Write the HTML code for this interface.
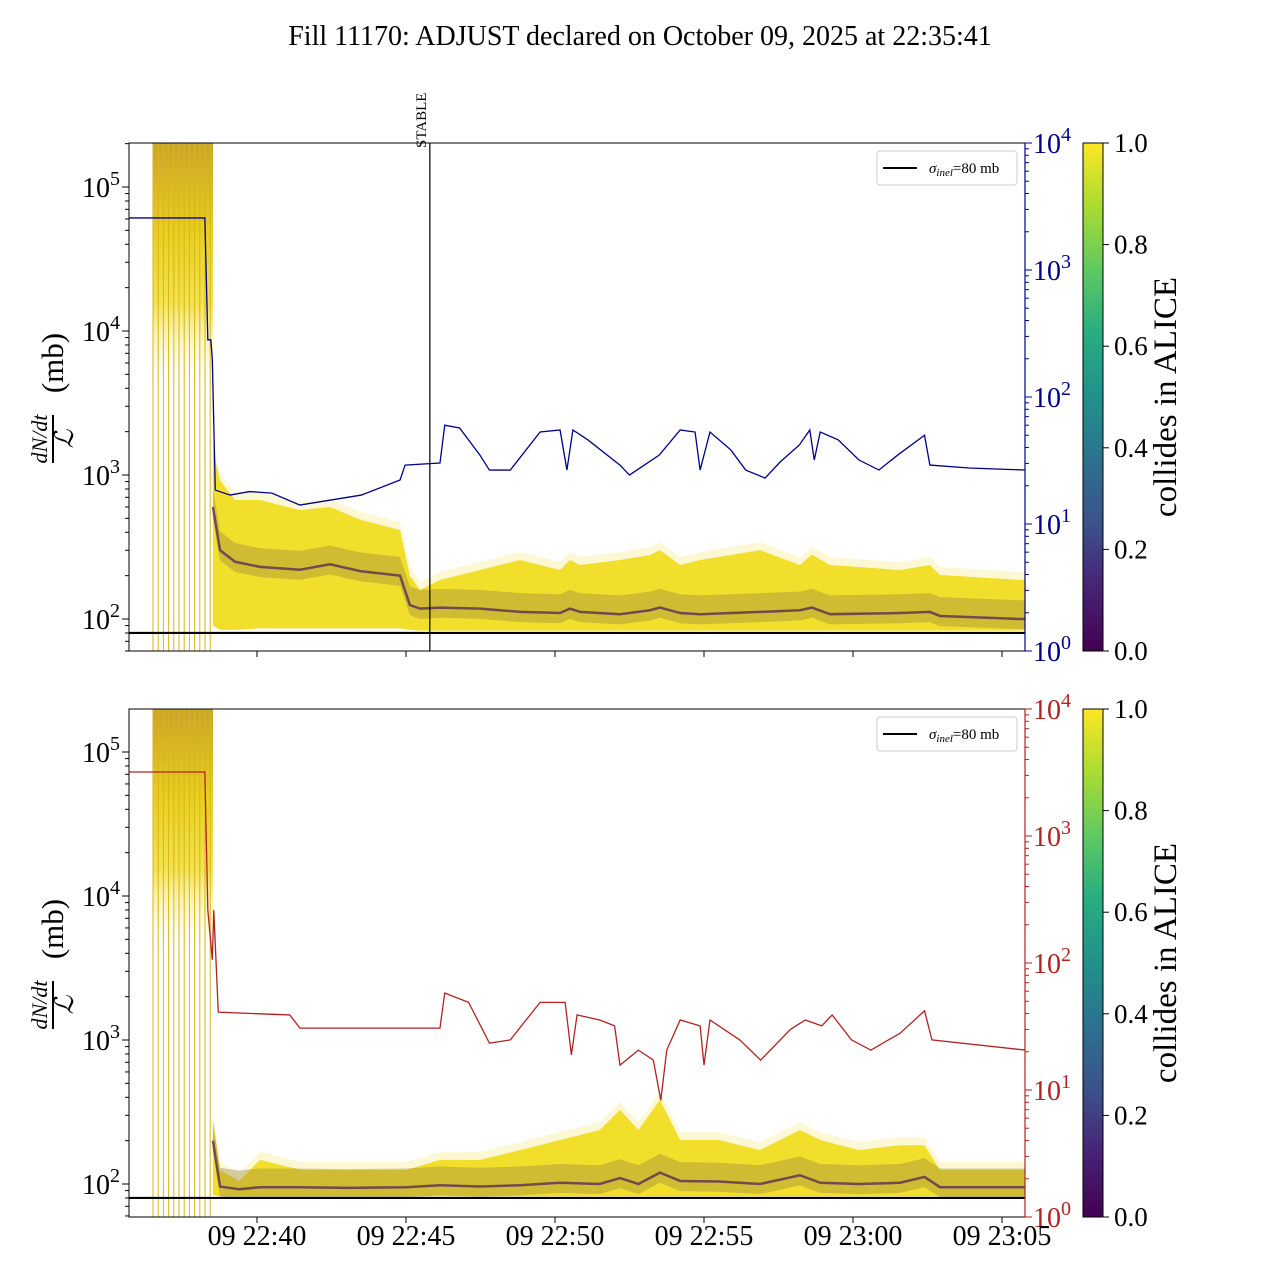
<!DOCTYPE html>
<html><head><meta charset="utf-8"><style>
html,body{margin:0;padding:0;background:#fff}
svg{display:block;font-family:"Liberation Serif",serif}
</style></head><body>
<svg id="chart" width="1280" height="1280" viewBox="0 0 1280 1280" xmlns="http://www.w3.org/2000/svg">
<defs>
<linearGradient id="viridis" x1="0" y1="1" x2="0" y2="0">
<stop offset="0" stop-color="#440154"/><stop offset="0.13" stop-color="#482475"/><stop offset="0.25" stop-color="#3b528b"/><stop offset="0.38" stop-color="#2c728e"/><stop offset="0.5" stop-color="#21918c"/><stop offset="0.63" stop-color="#28ae80"/><stop offset="0.75" stop-color="#5ec962"/><stop offset="0.88" stop-color="#addc30"/><stop offset="1" stop-color="#fde725"/>
</linearGradient>
<linearGradient id="spikeTop" x1="0" y1="0" x2="0" y2="1">
<stop offset="0" stop-color="#c9a52a"/><stop offset="0.25" stop-color="#e8cf1e"/><stop offset="0.45" stop-color="#f1df3a" stop-opacity="0.9"/><stop offset="0.6" stop-color="#fbf3b0" stop-opacity="0.4"/><stop offset="0.7" stop-color="#fff" stop-opacity="0"/>
</linearGradient>
</defs>
<text x="640" y="45" text-anchor="middle" font-size="28">Fill 11170: ADJUST declared on October 09, 2025 at 22:35:41</text>
<g id="panels"></g>
</svg>
<script>
// time in minutes relative to 22:40
const xTickLabels = ["09 22:40","09 22:45","09 22:50","09 22:55","09 23:00","09 23:05"];
const xTickMinutes = [0,5,10,15,20,25];
const stableMinute = 5.8;
const sigmaInel = 80;
// top panel band (mb)
const topBandT = [-1.48,-1.24,-0.74,0.1,1.44,2.45,3.46,4.8,5.13,5.47,6.14,7.48,8.83,10.17,10.5,10.84,12.18,13.19,13.52,14.2,14.87,16.88,18.22,18.62,19.23,21.58,22.58,22.92,25.6,25.8];
const topBandHi = [1480,920,670,670,570,600,490,415,200,159,187,219,257,219,257,237,257,278,301,237,257,301,237,280,237,219,237,202,187,187];
const topBandLo = [90,84,84,86,86,86,86,86,84,83,83,83,83,83,83,83,83,83,83,83,83,83,83,83,83,83,83,83,83,83];
const topBandMid = [600,300,250,230,220,240,215,200,125,118,120,118,112,110,118,112,108,115,120,110,108,112,115,120,108,110,112,105,100,100];
// bottom panel band (mb)
const botBandT = [-1.48,-1.24,-0.6,0.1,1.5,3,5,6.14,7.48,8.83,10.17,11.5,12.18,12.8,13.52,14.2,15.5,16.88,18.22,18.9,20.2,21.58,22.4,22.92,25.6,25.8];
const botBandHi = [278,125,105,147,125,125,125,147,147,172,202,237,327,237,383,202,202,172,237,202,172,186,186,125,125,125];
const botBandLo = [84,82,82,82,82,82,82,82,82,82,82,82,82,82,82,82,82,82,82,82,82,82,82,82,82,82];
const botBandMid = [200,96,92,95,95,94,95,98,96,98,102,100,110,100,120,105,104,100,115,102,100,102,112,95,95,95];
// right-axis series
const blueT = [-4.3,-1.75,-1.65,-1.55,-1.5,-1.4,-0.9,-0.25,0.5,1.44,3.5,4.8,4.97,6.14,6.3,6.8,7.48,7.8,8.5,9.5,10.17,10.4,10.6,11.1,12.18,12.5,13.5,14.2,14.7,14.87,15.2,15.9,16.4,17.05,17.55,18.2,18.55,18.7,18.9,19.5,20.2,20.87,21.5,22.4,22.58,23.9,25.8];
const blueV = [2570,2570,282,282,200,18.5,16.9,18.0,17.5,14.1,16.9,22.2,29.1,30.2,60,57,34.9,26.6,26.6,53,55,26.6,55,46,29.1,24.3,34.9,55,53,26.6,53,38.3,26.6,23,30.7,41.9,55,31.9,53,46,31.9,26.6,34.9,50,29.1,27.6,26.6];
const redT = [-4.3,-1.75,-1.65,-1.5,-1.45,-1.3,1.1,1.44,6.14,6.3,7.1,7.8,8.5,9.5,10.34,10.55,10.74,11.5,12.0,12.18,12.8,13.3,13.55,13.75,14.2,14.87,15.0,15.2,16.2,16.9,17.9,18.4,18.95,19.3,19.95,20.6,21.58,22.4,22.65,25.8];
const redV = [3190,3190,261,106,261,41,39,30.7,30.7,58,49,23.4,24.8,49,49,18.9,39,35.6,32,15.7,20.6,17.2,8.3,20.6,35.6,32,15.7,35.6,24.8,17.2,30,35.6,32,39,24.8,20.6,28,42,24.8,20.6];
// colorbar ticks
const cbarTicks = [0,0.2,0.4,0.6,0.8,1.0];

const NS="http://www.w3.org/2000/svg";
const root=document.getElementById('panels');
function el(tag,attrs,parent,text){const e=document.createElementNS(NS,tag);for(const k in attrs)e.setAttribute(k,attrs[k]);if(text!==undefined)e.textContent=text;(parent||root).appendChild(e);return e;}
const X0=129,X1=1025;
function xScale(t){return 257+t*29.8;}

function drawPanel(p){
  const top=p.top,bot=p.top+508;
  const yL=v=>p.y100-(Math.log10(v)-2)*144;
  const yR=v=>bot-Math.log10(v)*127;
  const g=el('g',{});
  
  
  const clip=el('clipPath',{id:'clip'+p.name},g);
  el('rect',{x:X0,y:top,width:X1-X0,height:508},clip);
  const pg=el('g',{'clip-path':'url(#clip'+p.name+')'},g);
  const sp=el('rect',{x:153,y:top,width:60,height:508*0.7,fill:'url(#spikeTop)'},pg);
  
  
  for(let i=0;i<12;i++){
    const x=153+i*5.2;
    const ln=el('line',{x1:x,x2:x,y1:top,y2:bot,stroke:'#d9b51a','stroke-width':1},pg);
    
    
  }
  const T=p.bandT;
  let up=T.map((t,i)=>xScale(t)+','+yL(p.hi[i]));
  let lo=T.map((t,i)=>xScale(t)+','+yL(p.lo[i])).reverse();
  let up2=T.map((t,i)=>xScale(t)+','+(yL(p.hi[i])-8));
  const halo=el('polygon',{points:up2.concat(lo).join(' '),fill:'#f6ec8a','fill-opacity':0.35},pg);
  
  
  const band=el('polygon',{points:up.concat(lo).join(' '),fill:'#f1dc1c','fill-opacity':0.92},pg);
  
  
  let mu=T.map((t,i)=>xScale(t)+','+yL(p.mid[i]*1.35));
  let ml=T.map((t,i)=>xScale(t)+','+yL(p.mid[i]*0.85)).reverse();
  const mb=el('polygon',{points:mu.concat(ml).join(' '),fill:'#9c8640','fill-opacity':0.4},pg);
  
  
  const mline=el('polyline',{points:T.map((t,i)=>xScale(t)+','+yL(p.mid[i])).join(' '),fill:'none',stroke:'#4a1a5a','stroke-width':2.5,'stroke-opacity':0.7},pg);
  
  
  const sl=el('line',{x1:X0,x2:X1,y1:yL(sigmaInel),y2:yL(sigmaInel),stroke:'#000','stroke-width':2.2},pg);
  
  
  const rs=el('polyline',{points:p.rT.map((t,i)=>xScale(t)+','+yR(p.rV[i])).join(' '),fill:'none',stroke:p.rc,'stroke-width':1.3},pg);
  
  
  if(p.stable){
    const s=el('line',{x1:xScale(stableMinute),x2:xScale(stableMinute),y1:top,y2:bot,stroke:'#000','stroke-width':1.2},g);
    
    
    const st=el('text',{x:0,y:0,'font-size':15,'text-anchor':'start',transform:`translate(${xScale(stableMinute)-4},148) rotate(-90)`},g,'STABLE');
    
    
  }
  el('rect',{x:X0,y:top,width:X1-X0,height:508,fill:'none',stroke:'#000','stroke-width':1},g);
  el('line',{x1:X1,x2:X1,y1:top,y2:bot,stroke:p.rc,'stroke-width':1.2},g);
  for(let d=1;d<=5;d++){
    for(let m=1;m<10;m++){
      const v=m*Math.pow(10,d);const y=yL(v);
      if(y<top||y>bot)continue;
      el('line',{x1:X0,x2:X0-(m==1?7:4),y1:y,y2:y,stroke:'#000','stroke-width':1},g);
      if(m==1){
        const t=el('text',{x:X0-9,y:y+10,'font-size':28,'text-anchor':'end'},g);
        
        
        el('tspan',{},t,'10');el('tspan',{dy:-12,'font-size':20},t,String(d));
      }
    }
  }
  for(let d=0;d<=4;d++){
    for(let m=1;m<10;m++){
      const v=m*Math.pow(10,d);const y=yR(v);
      if(y<top-0.5||y>bot+0.5)continue;
      if(d==4&&m>1)continue;
      el('line',{x1:X1,x2:X1+(m==1?7:4),y1:y,y2:y,stroke:p.rc,'stroke-width':1},g);
      if(m==1){
        const t=el('text',{x:X1+8,y:y+10,'font-size':28,fill:p.rc},g);
        
        
        el('tspan',{},t,'10');el('tspan',{dy:-12,'font-size':20},t,String(d));
      }
    }
  }
  xTickMinutes.forEach((m,i)=>{
    const x=xScale(m);
    el('line',{x1:x,x2:x,y1:bot,y2:bot+6,stroke:'#000'},g);
    if(p.xlabels){
      const t=el('text',{x:x,y:bot+28,'font-size':28,'text-anchor':'middle'},g,xTickLabels[i]);
      
      
    }
  });
  const cy=(top+bot)/2;
  const yl=el('g',{transform:`translate(53,${cy}) rotate(-90)`},g);
  
  
  el('text',{x:-42,y:-6,'font-size':22,'font-style':'italic','text-anchor':'middle'},yl,'dN/dt');
  el('line',{x1:-66,x2:-18,y1:0,y2:0,stroke:'#000','stroke-width':2},yl);
  el('text',{x:-42,y:20,'font-size':26,'font-style':'italic','text-anchor':'middle'},yl,'ℒ');
  el('text',{x:34,y:10,'font-size':31,'text-anchor':'middle'},yl,'(mb)');
  const lg=el('g',{},g);
  
  
  el('rect',{x:877,y:top+8,width:140,height:34,rx:3,fill:'#fff',stroke:'#ccc'},lg);
  el('line',{x1:883,x2:917,y1:top+25,y2:top+25,stroke:'#000','stroke-width':2},lg);
  const lt=el('text',{x:929,y:top+30,'font-size':15},lg);
  el('tspan',{'font-style':'italic'},lt,'σ');
  el('tspan',{'font-style':'italic','font-size':11,dy:3},lt,'inel');
  el('tspan',{dy:-3},lt,'=80 mb');
  const cb=el('rect',{x:1083,y:top,width:20,height:508,fill:'url(#viridis)',stroke:'#000','stroke-width':1},g);
  
  
  cbarTicks.forEach(v=>{
    const y=bot-v*508;
    el('line',{x1:1103,x2:1109,y1:y,y2:y,stroke:'#000'},g);
    const t=el('text',{x:1114,y:y+9,'font-size':27},g,v.toFixed(1));
    
    
  });
  const ct=el('text',{x:0,y:0,'font-size':33,'text-anchor':'middle',transform:`translate(1176,${cy}) rotate(-90)`},g,'collides in ALICE');
  
  
}
drawPanel({name:'top',top:143,y100:619,bandT:topBandT,hi:topBandHi,lo:topBandLo,mid:topBandMid,rT:blueT,rV:blueV,rc:'#00008b',stable:true,xlabels:false});
drawPanel({name:'bottom',top:709,y100:1184,bandT:botBandT,hi:botBandHi,lo:botBandLo,mid:botBandMid,rT:redT,rV:redV,rc:'#b22222',stable:false,xlabels:true});
</script>
</body></html>
